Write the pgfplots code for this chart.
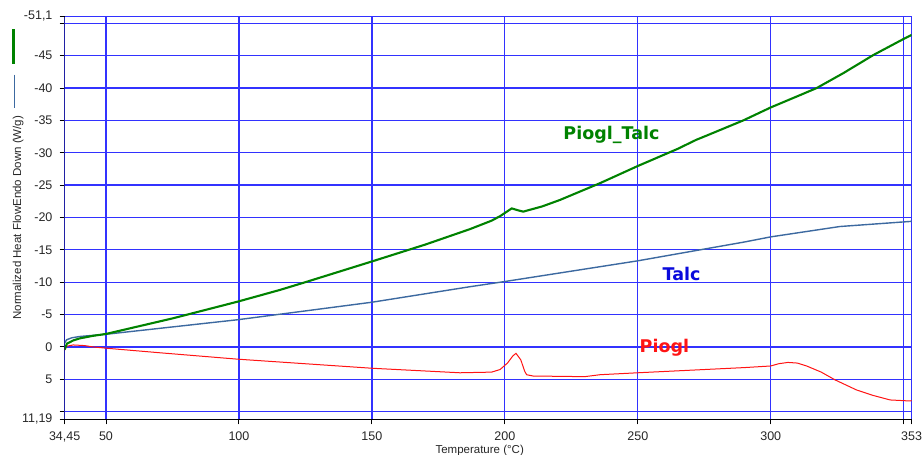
\documentclass[border=0pt]{standalone}
\usepackage{pgfplots}
\pgfplotsset{compat=1.18}
\usepackage{fontspec}
\setmainfont{Liberation Sans}
\newfontfamily\labelfont{DejaVu Sans}

\definecolor{gridblue}{RGB}{50,50,255}
\definecolor{talccol}{RGB}{60,105,160}
\definecolor{mixcol}{RGB}{0,130,0}
\definecolor{pioglcol}{RGB}{255,20,20}
\definecolor{talclabel}{RGB}{10,10,220}

% Piogl_Talc
\pgfplotstableread{
T Y
34.45 0.4
35.3 -0.5
37.7 -1.0
40 -1.3
45 -1.7
50 -2.0
75 -4.4
99.6 -7.0
115.4 -8.8
125 -10.0
150 -13.2
170 -15.8
186.9 -18.2
195 -19.5
198.2 -20.2
202.6 -21.4
205 -21.1
206.9 -20.9
214 -21.7
220.7 -22.7
235.8 -25.3
250 -27.95
265 -30.6
272 -32.0
275 -32.5
289.7 -35.0
300 -37.0
311 -38.9
317.3 -40.0
327.3 -42.3
338.6 -45.1
350.5 -47.7
353 -48.2
}\mixdata

% Talc
\pgfplotstableread{
T Y
34.45 -0.6
35.2 -1.1
37.1 -1.4
40 -1.6
42.7 -1.7
50 -1.95
99.6 -4.2
150 -6.9
186.9 -9.3
200 -10.1
250 -13.3
290 -16.2
300 -17.0
326 -18.6
353 -19.4
}\talcdata

% Piogl
\pgfplotstableread{
T Y
34.45 0.5
35.2 -0.1
37.7 -0.3
42 -0.2
45 0.0
50 0.2
70 0.9
99.6 1.9
150 3.3
183.1 4.0
195 3.9
198.2 3.5
201 2.5
203 1.4
204.2 1.0
206 2.0
207.5 3.8
208.2 4.3
210.6 4.5
230 4.6
235.8 4.3
250 4.0
270 3.6
290 3.2
296 3.05
300 2.95
303 2.6
306.5 2.4
310 2.5
313.5 2.95
319 3.9
324.2 5.1
332.3 6.66
338.5 7.5
344.9 8.2
352.4 8.36
353 8.3
}\piogldata

\begin{document}
\begin{tikzpicture}[x=1pt,y=1pt]
\useasboundingbox (0,0) rectangle (924,455);
\begin{axis}[
  at={(64.65pt,35.7pt)}, anchor=south west,
  scale only axis, width=847pt, height=403.1pt,
  xmin=34.45, xmax=353, ymin=-51.1, ymax=11.19,
  y dir=reverse,
  axis line style={draw=gridblue, line width=1.3pt},
  grid=major,
  major grid style={gridblue, line width=1.3pt},
  xtick={50,100,...,350},
  xticklabels={50,100,150,200,250,300,},
  extra x ticks={34.45,353},
  extra x tick labels={{34,45},353},
  ytick={-50,-45,...,10},
  yticklabels={,-45,-40,-35,-30,-25,-20,-15,-10,-5,0,5,},
  extra y ticks={-51.1,11.19},
  extra y tick labels={{-51,1},{11,19}},
  extra tick style={grid=none},
  xtick pos=bottom, ytick pos=left,
  tick align=outside,
  major tick length=5pt,
  tick style={black, line width=0.9pt},
  ticklabel style={font=\fontsize{12.5}{14}\selectfont, text=black!85},
  yticklabel style={inner sep=0pt, xshift=-7pt},
  xticklabel style={inner sep=0pt, yshift=-7pt},
  xlabel={Temperature (°C)},
  ylabel={Normalized Heat FlowEndo Down (W/g)},
  label style={font=\fontsize{11.5}{13}\selectfont, text=black!85},
  xlabel style={at={(rel axis cs:0.49,0)}, anchor=north, yshift=-26pt, inner sep=0pt},
  ylabel style={at={(rel axis cs:0,0.5)}, anchor=south, xshift=0pt, yshift=41pt, inner sep=0pt},
  clip=true,
]
\addplot[pioglcol, line width=1pt] table[x=T,y=Y] {\piogldata};
\addplot[talccol, line width=1.4pt] table[x=T,y=Y] {\talcdata};
\addplot[mixcol, line width=2.1pt] table[x=T,y=Y] {\mixdata};

\node[anchor=base, text=mixcol, font=\labelfont\bfseries\fontsize{17.5}{20}\selectfont] at (axis cs:240.1,-32.1) {Piogl\_Talc};
\node[anchor=base, text=talclabel, font=\labelfont\bfseries\fontsize{17.5}{20}\selectfont] at (axis cs:266.5,-10.3) {Talc};
\node[anchor=base, text=pioglcol, font=\labelfont\bfseries\fontsize{17.5}{20}\selectfont] at (axis cs:260,0.8) {Piogl};

% left and bottom axis lines in black
\draw[black, line width=1.3pt] (axis cs:34.45,-51.1) -- (axis cs:34.45,11.19) -- (axis cs:353,11.19);
\end{axis}
% series swatches at the upper left
\draw[mixcol, line width=2.5pt] (13.5,425.7) -- (13.5,390.7);
\draw[talccol, line width=1.6pt] (14.5,380.3) -- (14.5,347);
\end{tikzpicture}
\end{document}
